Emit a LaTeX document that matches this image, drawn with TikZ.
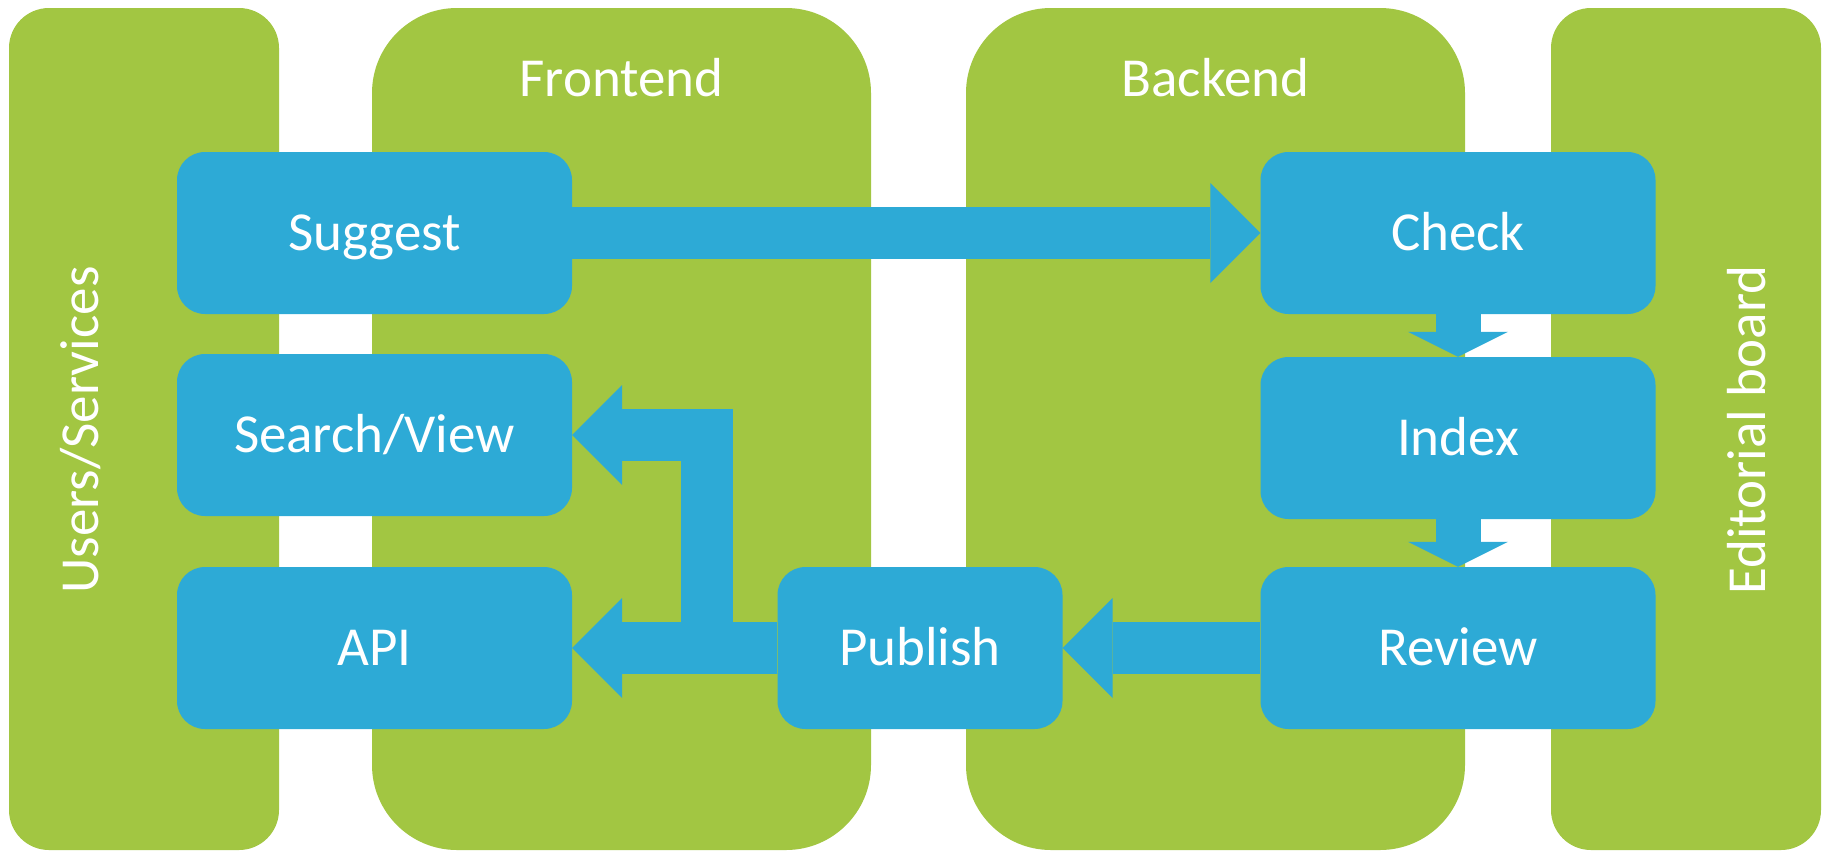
\documentclass[tikz,border=0pt]{standalone}
\usepackage{fontspec}
\setmainfont{Carlito}
\usetikzlibrary{arrows.meta,positioning}

\definecolor{leaf}{HTML}{A2C642}
\definecolor{sky}{HTML}{2DAAD6}

\tikzstyle{lane}=[rectangle,fill=leaf,minimum height=842pt,inner sep=0pt]
\tikzstyle{lane title}=[text=white,font=\fontsize{55}{60}\selectfont,text height=35pt,text depth=0pt,inner sep=0pt]
\tikzstyle{task}=[rectangle,rounded corners=28pt,fill=sky,text=white,minimum width=395pt,minimum height=162pt,
  font=\fontsize{55}{60}\selectfont,text height=35pt,text depth=0pt,inner sep=0pt]
\tikzstyle{flow} = [draw=sky,line width=52pt,-{Triangle[length=50pt,width=100pt,line width=0pt]}]
\tikzstyle{small flow} = [draw=sky,line width=45pt,-{Triangle[length=25pt,width=100pt,line width=0pt]}]

\begin{document}
\begin{tikzpicture}[x=1pt,y=-1pt]
     \useasboundingbox (0,0) rectangle (1823,852);
     % First the four lanes
     \foreach \pos/\name/\w/\r in {{(144,429)/users/270/40}, {(621.5,429)/frontend/499/85},
       {(1215.5,429)/backend/499/85}, {(1686,429)/editorial/270/40}}
     \node[lane,minimum width=\w pt,rounded corners=\r pt] (\name) at \pos {};

     \node[lane title,below=53pt of frontend.north] (frontend title) {Frontend};
     \node[lane title,below=53pt of backend.north] (backend title) {Backend};
     \node[lane title,rotate=90] (users title) at (80.5,430) {Users/Services};
     \node[lane title,rotate=90] (editorial title) at (1748,430) {Editorial board};

     % Then the tasks
     \foreach \pos/\name/\txt in {{(374.5,233)/suggest/Suggest}, {(374.5,435)/search/{Search/View}},
       {(374.5,648)/api/API}, {(1458,233)/check/Check}, {(1458,438)/index/Index},
       {(1458,648)/review/Review}}
     \node[task] (\name) at \pos {\txt};
     \node[task,minimum width=285pt] (publish) at (920,648) {Publish};

     % Connect tasks with block arrows
     \coordinate (bend) at (707,435);
     \foreach \source/\dest in {suggest/check, review/publish, publish/api}
     \path[flow] (\source) -- (\dest);
     \foreach \source/\dest in {check/index, index/review}
     \path[small flow] (\source) -- (\dest);
     \path[flow] (publish.west) -| (bend) -- (search.east);
\end{tikzpicture}
\end{document}
